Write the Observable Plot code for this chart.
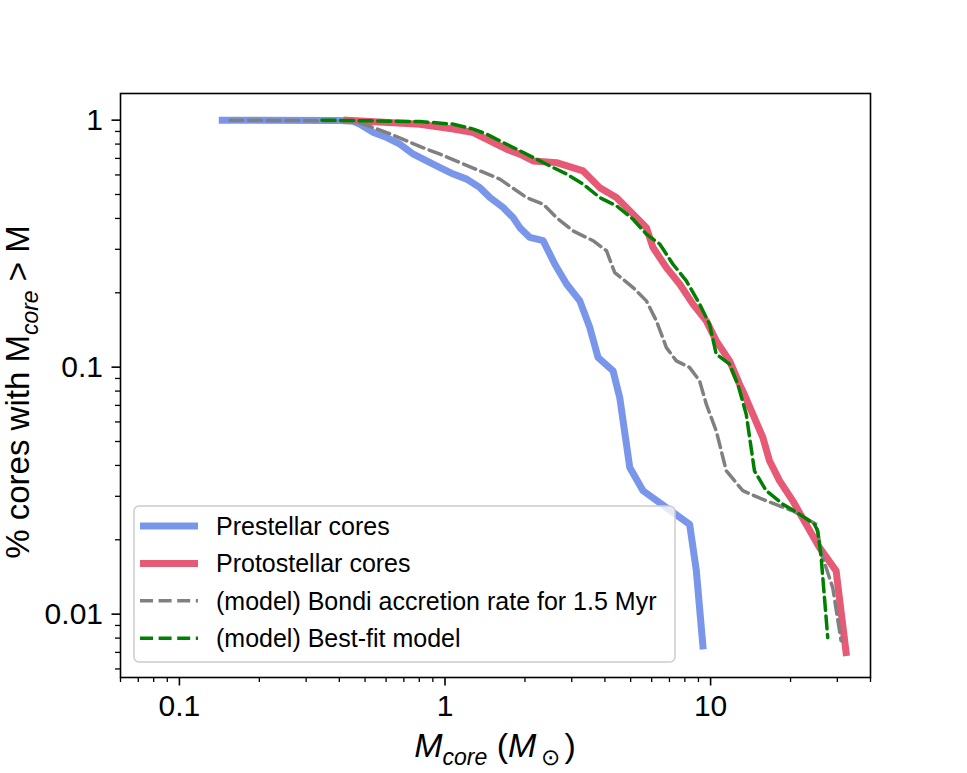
<!DOCTYPE html>
<html>
<head>
<meta charset="utf-8">
<script src="https://cdn.jsdelivr.net/npm/d3@7"></script>
<script src="https://cdn.jsdelivr.net/npm/@observablehq/plot@0.6"></script>
<style>
  html, body { margin: 0; padding: 0; background: white; }
</style>
</head>
<body>
<div id="chart"></div>
<script>
// ---- data ----
const prestellarMass = [0.145, 0.40, 0.451, 0.479, 0.538, 0.604, 0.677, 0.760, 0.853, 0.958, 1.075, 1.207, 1.354, 1.476, 1.656, 1.806, 1.914, 2.087, 2.342, 2.592, 2.868, 3.218, 3.509, 3.770, 4.293, 4.482, 4.549, 4.962, 5.567, 6.816, 8.339, 8.837, 9.355];
const prestellarFrac = [1.0, 0.997, 0.99, 0.963, 0.891, 0.850, 0.799, 0.728, 0.684, 0.643, 0.605, 0.577, 0.533, 0.486, 0.443, 0.403, 0.367, 0.335, 0.325, 0.261, 0.217, 0.1855, 0.1446, 0.1094, 0.0966, 0.0801, 0.0753, 0.0392, 0.0316, 0.0270, 0.0231, 0.01497, 0.00744];

const protostellarMass = [0.427, 0.805, 1.075, 1.278, 1.476, 1.706, 1.914, 2.148, 2.630, 3.311, 3.825, 4.421, 5.105, 5.732, 6.069, 6.816, 7.646, 8.581, 9.634, 10.50, 11.79, 12.85, 13.22, 14.42, 15.73, 16.66, 18.17, 20.39, 22.89, 25.70, 29.69, 32.37];
const protostellarFrac = [1.0, 0.963, 0.920, 0.891, 0.824, 0.763, 0.728, 0.684, 0.673, 0.623, 0.533, 0.486, 0.4164, 0.367, 0.305, 0.253, 0.217, 0.180, 0.154, 0.1278, 0.106, 0.0853, 0.0801, 0.0645, 0.0519, 0.0418, 0.0347, 0.02876, 0.0231, 0.0186, 0.01497, 0.00699];

const bondiMass = [0.155, 0.452, 0.538, 0.604, 0.718, 0.853, 0.958, 1.139, 1.354, 1.609, 2.028, 2.342, 2.630, 3.036, 3.610, 4.055, 4.356, 5.105, 5.732, 6.251, 6.816, 7.43, 8.339, 9.09, 9.634, 10.50, 11.46, 13.22, 16.20, 20.39, 24.96, 26.44, 28.83, 31.0];
const bondiFrac = [1.0, 0.993, 0.933, 0.891, 0.824, 0.763, 0.728, 0.673, 0.623, 0.577, 0.486, 0.457, 0.403, 0.356, 0.325, 0.296, 0.2415, 0.210, 0.1855, 0.154, 0.120, 0.106, 0.0996, 0.0880, 0.0708, 0.0552, 0.0380, 0.0316, 0.02876, 0.0262, 0.0231, 0.01694, 0.01281, 0.0078];

const bestFitMass = [0.344, 0.805, 1.075, 1.278, 1.435, 1.609, 1.806, 2.148, 2.481, 2.868, 3.311, 3.825, 4.421, 5.105, 5.732, 6.432, 7.217, 8.104, 9.09, 9.91, 10.50, 11.79, 12.66, 13.62, 14.63, 16.20, 18.70, 21.61, 24.60, 25.31, 26.08, 27.61];
const bestFitFrac = [1.0, 0.987, 0.963, 0.920, 0.878, 0.824, 0.775, 0.706, 0.653, 0.605, 0.551, 0.486, 0.450, 0.397, 0.3455, 0.315, 0.261, 0.2236, 0.180, 0.149, 0.1129, 0.1028, 0.0853, 0.0645, 0.0380, 0.0316, 0.0279, 0.0254, 0.0231, 0.0217, 0.01694, 0.00804];

const seriesNames = ["Prestellar cores", "Protostellar cores", "(model) Bondi accretion rate for 1.5 Myr", "(model) Best-fit model"];

const xMajorTicks = [0.1, 1, 10];
const xMinorTicks = [0.06, 0.07, 0.08, 0.09, 0.2, 0.3, 0.4, 0.5, 0.6, 0.7, 0.8, 0.9, 2, 3, 4, 5, 6, 7, 8, 9, 20, 30, 40];
const yMajorTicks = [0.01, 0.1, 1];
const yMinorTicks = [0.006, 0.007, 0.008, 0.009, 0.02, 0.03, 0.04, 0.05, 0.06, 0.07, 0.08, 0.09, 0.2, 0.3, 0.4, 0.5, 0.6, 0.7, 0.8, 0.9];

// ---- build tables ----
const zip = (xs, ys) => xs.map((m, i) => ({m, f: ys[i]}));
const prestellar = zip(prestellarMass, prestellarFrac);
const protostellar = zip(protostellarMass, protostellarFrac);
const bondi = zip(bondiMass, bondiFrac);
const bestFit = zip(bestFitMass, bestFitFrac);

const FONT = "'Liberation Sans', Arial, Helvetica, sans-serif";
const cBlue = "#7a96ea", cRed = "#e65a76", cGray = "#808080", cGreen = "#008000";
const dash = "13,5.6";

const svg = Plot.plot({
  width: 967,
  height: 773,
  marginLeft: 120,
  marginRight: 97,
  marginTop: 93,
  marginBottom: 96,
  style: {fontFamily: FONT, fontSize: "30px", color: "black", background: "white", overflow: "visible"},
  x: {type: "log", domain: [0.060, 40.0], label: null},
  y: {type: "log", domain: [0.00554, 1.282], label: null},
  marks: [
    Plot.line(prestellar, {x: "m", y: "f", stroke: cBlue, strokeWidth: 7, strokeLinejoin: "round", strokeLinecap: "square"}),
    Plot.line(protostellar, {x: "m", y: "f", stroke: cRed, strokeWidth: 7, strokeLinejoin: "round", strokeLinecap: "square"}),
    Plot.line(bondi, {x: "m", y: "f", stroke: cGray, strokeWidth: 3.5, strokeDasharray: dash, strokeLinejoin: "round"}),
    Plot.line(bestFit, {x: "m", y: "f", stroke: cGreen, strokeWidth: 3.5, strokeDasharray: dash, strokeLinejoin: "round"}),
    Plot.axisX({ticks: xMinorTicks, tickFormat: () => "", tickSize: 5, strokeWidth: 1.3, label: null}),
    Plot.axisX({ticks: xMajorTicks, tickFormat: d => String(d), tickSize: 8.5, tickPadding: 9, strokeWidth: 1.6, fontSize: 30, label: null}),
    Plot.axisY({ticks: yMinorTicks, tickFormat: () => "", tickSize: 5, strokeWidth: 1.3, label: null}),
    Plot.axisY({ticks: yMajorTicks, tickFormat: d => String(d), tickSize: 8.5, tickPadding: 9, strokeWidth: 1.6, fontSize: 30, label: null}),
    Plot.frame({stroke: "black", strokeWidth: 1.6})
  ]
});

document.getElementById("chart").appendChild(svg);

const s = d3.select(svg);
// make sure tick labels use the large size
s.selectAll('g[aria-label="x-axis tick label"] text, g[aria-label="y-axis tick label"] text')
  .style("font-size", "30px").style("font-family", FONT);

// ---- axis labels with subscripts ----
const yl = s.append("text")
  .attr("transform", "translate(29,392) rotate(-90)")
  .attr("text-anchor", "middle")
  .style("font-family", FONT).style("font-size", "33px").attr("fill", "black");
yl.append("tspan").text("% cores with M");
yl.append("tspan").style("font-size", "23px").attr("font-style", "italic").attr("dy", 9).text("core");
yl.append("tspan").attr("dy", -9).text(" > M");

const xl = s.append("text")
  .attr("x", 495).attr("y", 757)
  .attr("text-anchor", "middle")
  .style("font-family", FONT).style("font-size", "34px").attr("fill", "black");
xl.append("tspan").attr("font-style", "italic").text("M");
xl.append("tspan").style("font-size", "23px").attr("font-style", "italic").attr("dy", 8).text("core");
xl.append("tspan").attr("dy", -8).text(" (");
xl.append("tspan").attr("font-style", "italic").text("M");
xl.append("tspan").style("font-size", "23px").attr("dy", 8).text("\u2009\u2299\u2009");
xl.append("tspan").attr("dy", -8).text(")");

// ---- legend ----
const lg = s.append("g");
lg.append("rect")
  .attr("x", 134).attr("y", 506).attr("width", 541).attr("height", 156)
  .attr("rx", 5).attr("ry", 5)
  .attr("fill", "white").attr("fill-opacity", 0.8)
  .attr("stroke", "#cccccc").attr("stroke-width", 1.5);
const styles = [
  {stroke: cBlue, w: 7, dash: null},
  {stroke: cRed, w: 7, dash: null},
  {stroke: cGray, w: 3.5, dash: dash},
  {stroke: cGreen, w: 3.5, dash: dash}
];
seriesNames.forEach((name, i) => {
  const yy = 526 + i * 37.4;
  const ln = lg.append("line")
    .attr("x1", 140).attr("x2", 198).attr("y1", yy).attr("y2", yy)
    .attr("stroke", styles[i].stroke).attr("stroke-width", styles[i].w);
  if (styles[i].dash) ln.attr("stroke-dasharray", styles[i].dash);
  lg.append("text")
    .attr("x", 216).attr("y", yy + 9)
    .attr("text-anchor", "start")
    .style("font-family", FONT).style("font-size", "25px").attr("fill", "black")
    .text(name);
});
</script>
</body>
</html>
